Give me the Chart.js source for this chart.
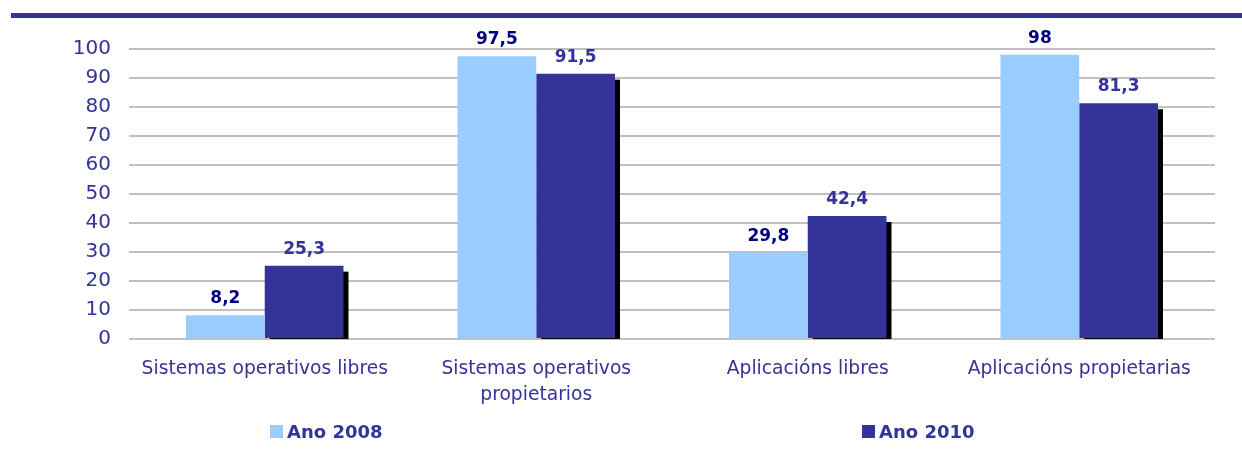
<!DOCTYPE html>
<html>
<head>
<meta charset="utf-8">
<script src="https://cdn.jsdelivr.net/npm/chart.js@4.4.1/dist/chart.umd.min.js"></script>
<style>
    body { margin: 0; background: #fff; font-family: "DejaVu Sans", Verdana, sans-serif; }
    #wrap { position: relative; width: 1242px; height: 454px; }
    #topbar { position: absolute; left: 11px; top: 13px; width: 1231px; height: 5px; background: #333399; }
    #legend { position: absolute; top: 421px; left: 0; width: 1242px; height: 24px; }
    .item { position: absolute; display: flex; align-items: center; font-weight: bold; font-size: 18px; color: #333399; }
    .sw { width: 13px; height: 13px; margin-right: 4px; }
</style>
</head>
<body>
<div id="wrap">
    <div id="topbar"></div>
    <canvas id="chart" width="1242" height="454"></canvas>
    <div id="legend"></div>
</div>
<script>
const categories = [
    'Sistemas operativos libres',
    ['Sistemas operativos', 'propietarios'],
    'Aplicacións libres',
    'Aplicacións propietarias'
];
const seriesNames = ['Ano 2008', 'Ano 2010'];
const values2008 = [8.2, 97.5, 29.8, 98];
const values2010 = [25.3, 91.5, 42.4, 81.3];
const colors = ['#99CCFF', '#333399'];
const labelColors = ['#000080', '#333399'];
const legendX = [270, 862];

// black drop shadow behind the 2010 bars
const shadowPlugin = {
    id: 'barShadow',
    beforeDatasetDraw(chart, args) {
        if (args.index !== 1) return;
        const ctx = chart.ctx;
        const base = chart.scales.y.getPixelForValue(0);
        ctx.save();
        ctx.fillStyle = '#000';
        args.meta.data.forEach(bar => {
            const w = bar.width;
            ctx.fillRect(bar.x - w / 2 + 5, bar.y + 6, w, base - bar.y - 6);
        });
        ctx.restore();
    }
};

const valueLabels = {
    id: 'valueLabels',
    afterDatasetsDraw(chart) {
        const ctx = chart.ctx;
        ctx.save();
        ctx.font = 'bold 17px "DejaVu Sans"';
        ctx.textAlign = 'center';
        ctx.textBaseline = 'bottom';
        chart.data.datasets.forEach((ds, i) => {
            ctx.fillStyle = labelColors[i];
            chart.getDatasetMeta(i).data.forEach((bar, j) => {
                ctx.fillText(String(ds.data[j]).replace('.', ','), bar.x, bar.y - 8);
            });
        });
        ctx.restore();
    }
};

new Chart(document.getElementById('chart'), {
    type: 'bar',
    data: {
        labels: categories,
        datasets: [
            { label: seriesNames[0], data: values2008, backgroundColor: colors[0] },
            { label: seriesNames[1], data: values2010, backgroundColor: colors[1] }
        ]
    },
    options: {
        responsive: false,
        animation: false,
        layout: { padding: { top: 49, right: 27, bottom: 0, left: 0 } },
        datasets: { bar: { categoryPercentage: 0.58, barPercentage: 1 } },
        plugins: { legend: { display: false }, tooltip: { enabled: false } },
        scales: {
            x: {
                grid: { display: false },
                border: { display: false },
                ticks: { color: '#333399', font: { family: 'DejaVu Sans', size: 18.7, lineHeight: 1.35 }, padding: 10, maxRotation: 0 },
                afterFit(scale) { scale.height = 115; }
            },
            y: {
                min: 0, max: 100,
                grid: { color: '#C0C0C0', lineWidth: 2, drawTicks: false },
                border: { display: false },
                ticks: { stepSize: 10, color: '#333399', font: { family: 'DejaVu Sans', size: 20 }, padding: 18 },
                afterFit(scale) { scale.width = 129; }
            }
        }
    },
    plugins: [shadowPlugin, valueLabels]
});

const legend = document.getElementById('legend');
seriesNames.forEach((name, i) => {
    const el = document.createElement('div');
    el.className = 'item';
    el.style.left = legendX[i] + 'px';
    el.innerHTML = '<span class="sw" style="background:' + colors[i] + '"></span>' + name;
    legend.appendChild(el);
});
</script>
</body>
</html>
